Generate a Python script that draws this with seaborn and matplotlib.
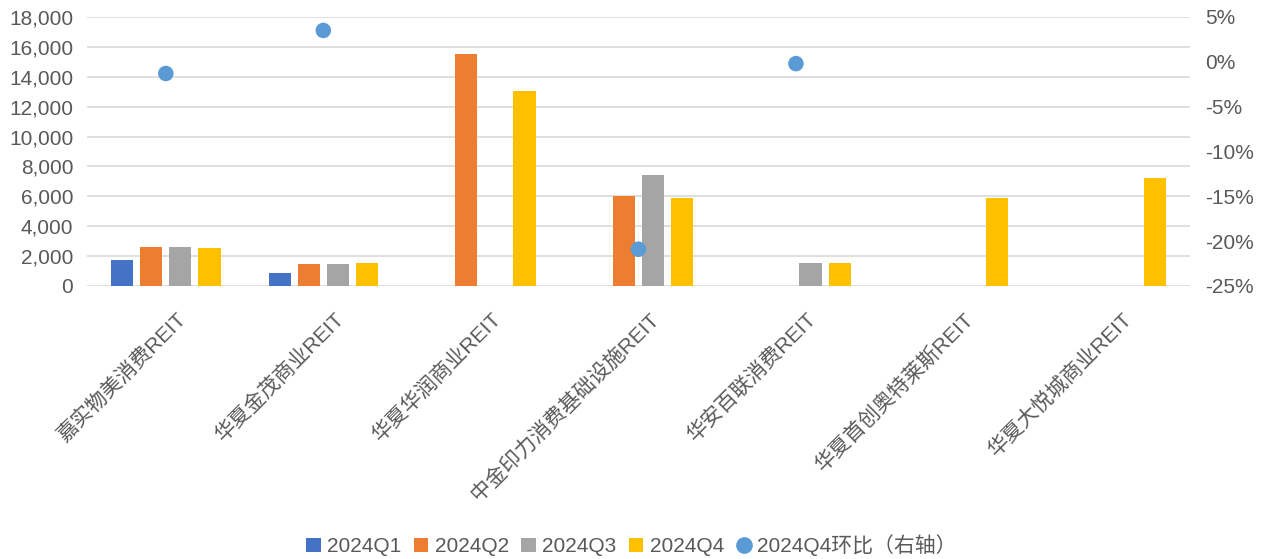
import numpy as np
import pandas as pd
import matplotlib
matplotlib.use("Agg")
import matplotlib.pyplot as plt
import matplotlib.transforms as mtransforms
import seaborn as sns
from matplotlib.ticker import FuncFormatter
from matplotlib.lines import Line2D
from matplotlib.patches import Patch

categories = ["嘉实物美消费REIT", "华夏金茂商业REIT", "华夏华润商业REIT",
              "中金印力消费基础设施REIT", "华安百联消费REIT",
              "华夏首创奥特莱斯REIT", "华夏大悦城商业REIT"]
quarters = ["2024Q1", "2024Q2", "2024Q3", "2024Q4"]
q1 = [1740, 890, np.nan, np.nan, np.nan, np.nan, np.nan]
q2 = [2610, 1450, 15550, 6040, np.nan, np.nan, np.nan]
q3 = [2610, 1450, np.nan, 7430, 1520, np.nan, np.nan]
q4 = [2570, 1540, 13050, 5870, 1520, 5910, 7210]
qoq = [-1.3, 3.5, np.nan, -20.9, -0.2, np.nan, np.nan]  # percent
qoq_label = "2024Q4环比（右轴）"

colors = ["#4472C4", "#ED7D31", "#A5A5A5", "#FFC000"]
dot_color = "#5B9BD5"
text_color = "#595959"

sns.set_theme(style="white")
plt.rcParams['font.family'] = ['Liberation Sans', 'Noto Sans CJK SC', 'DejaVu Sans']

rows = []
for qn, vals in zip(quarters, [q1, q2, q3, q4]):
    for c, v in zip(categories, vals):
        rows.append({"cat": c, "quarter": qn, "value": v})
df = pd.DataFrame(rows)

fig = plt.figure(figsize=(12.63, 5.59), dpi=100)
ax = fig.add_axes([0.0689, 0.4884, 0.942 - 0.0689, 0.9696 - 0.4884])
sns.barplot(data=df, x="cat", y="value", hue="quarter", order=categories,
            hue_order=quarters, palette=colors, width=0.74, gap=0.24,
            saturation=1, ax=ax, legend=False, linewidth=0)

ax.set_ylim(0, 18000)
ax.set_yticks(np.arange(0, 18001, 2000))
ax.yaxis.set_major_formatter(FuncFormatter(lambda v, p: f"{int(v):,}"))
ax.set_xlim(-0.5, len(categories) - 0.5)
ax.grid(axis="y", color="#D9D9D9", linewidth=1.2)
ax.set_axisbelow(True)
for s in ax.spines.values():
    s.set_visible(False)
ax.set_xlabel("")
ax.set_ylabel("")
ax.tick_params(axis="y", labelsize=15, colors=text_color, length=0, pad=10)
ax.tick_params(axis="x", length=0, pad=0)
ax.set_xticks(range(len(categories)))
ax.set_xticklabels(categories, rotation=45, ha="right", va="center",
                   rotation_mode="anchor", fontsize=15, color=text_color)
offset = mtransforms.ScaledTranslation(17 / 100, -30 / 100, fig.dpi_scale_trans)
for lab in ax.get_xticklabels():
    lab.set_transform(lab.get_transform() + offset)

ax2 = ax.twinx()
ax2.set_position(ax.get_position())
sns.scatterplot(x=np.arange(len(categories)), y=qoq, ax=ax2, color=dot_color,
                s=125, edgecolor="none", legend=False, zorder=5)
ax2.set_ylim(-25, 5)
ax2.set_yticks(np.arange(-25, 6, 5))
ax2.yaxis.set_major_formatter(FuncFormatter(lambda v, p: f"{int(v)}%"))
ax2.tick_params(axis="y", labelsize=15, colors=text_color, length=0, pad=11)
for lab in ax2.get_yticklabels():
    lab.set_horizontalalignment("left")
ax2.grid(False)
for s in ax2.spines.values():
    s.set_visible(False)
ax2.set_ylabel("")

handles = [Patch(facecolor=c, edgecolor="none") for c in colors]
handles.append(Line2D([], [], marker="o", linestyle="none", color=dot_color,
                      markersize=11))
labels = quarters + [qoq_label]
fig.legend(handles, labels, loc="center", bbox_to_anchor=(0.5, 0.024), ncol=5,
           frameon=False, labelcolor=text_color,
           handlelength=0.7, handleheight=0.7, handletextpad=0.3,
           columnspacing=0.6, prop={'size': 15})

fig.savefig("out.png", dpi=100)
